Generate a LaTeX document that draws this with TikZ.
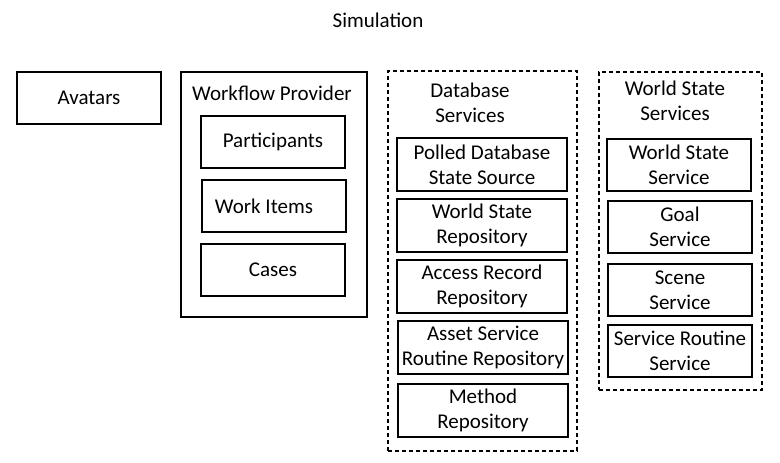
\documentclass[tikz,border=0pt]{standalone}
\usepackage{fontspec}
\setmainfont{Carlito}
\usetikzlibrary{positioning}

\begin{document}
\begin{tikzpicture}[x=1pt, y=-1pt, line width=2pt,
        every node/.style={font=\fontsize{21}{25}\selectfont, align=center, inner sep=0pt},
        box/.style={draw, minimum width=144pt, minimum height=52pt},
        dbbox/.style={draw, minimum width=170pt, minimum height=53pt},
        group/.style={draw, line width=1.6pt, dash pattern=on 4pt off 3pt}]
                \useasboundingbox (0,0) rectangle (780,463);
                \node (sim) at (378,20) {Simulation};
                \node[box] (av) at (89,97.5) {Avatars};
                % workflow provider
                \node[draw, minimum width=186pt, minimum height=245pt] (wf) at (274,194.5) {};
                \node (wft) at (272,93) {Workflow Provider};
                \node[box] (part) at (273,142) {Participants};
                \node[box] (wi) at (274,206) {Work Items\hspace{20pt}};
                \node[box] (cases) at (273,270) {Cases};
                % database services
                \node[group, minimum width=189pt, minimum height=380pt] (db) at (482.5,261) {};
                \node (dbt) at (470,102.5) {Database\\Services};
                \node[dbbox] (pdss) at (482,164.5) {Polled Database\\State Source};
                \node[dbbox] (wsr) at (482,225.5) {World State\\Repository};
                \node[dbbox] (arr) at (482,286.5) {Access Record\\Repository};
                \node[dbbox] (asrr) at (483,347.5) {Asset Service\\Routine Repository};
                \node[dbbox] (mr) at (483,410.5) {Method\\Repository};
                % world state services
                \node[group, minimum width=163pt, minimum height=318pt] (ws) at (680.5,231) {};
                \node (wst) at (675,101) {World State\\Services};
                \node[box] (wss) at (679,165) {World State\\Service};
                \node[box] (gs) at (680,227) {Goal\\Service};
                \node[box] (ss) at (680,290) {Scene\\Service};
                \node[box] (srs) at (680,350.5) {Service Routine\\Service};
        \end{tikzpicture}
\end{document}
